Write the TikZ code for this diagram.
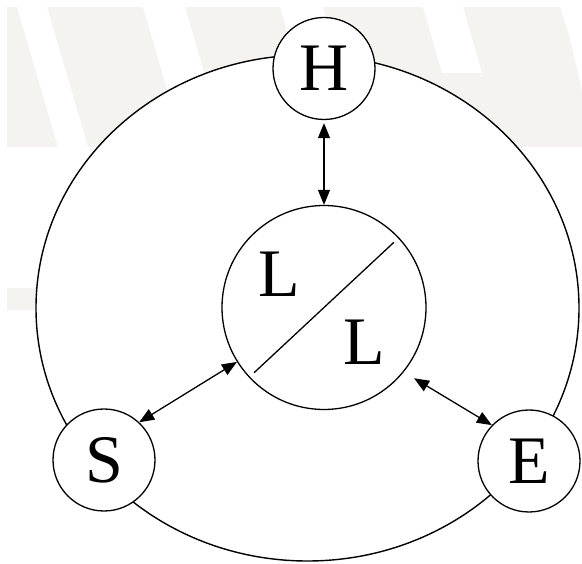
\documentclass[tikz,border=0pt]{standalone}
\usepackage{fontspec}
\setmainfont{Liberation Serif}
\usetikzlibrary{arrows.meta}
\definecolor{wmgrey}{RGB}{245,243,240}
\tikzset{
  ring/.style={draw, line width=1.4pt},
  station/.style={circle, draw, fill=white, line width=1.3pt, minimum size=102pt,
    inner sep=0pt, font=\fontsize{68}{68}\selectfont},
  hub/.style={circle, draw, fill=white, line width=1.3pt, minimum size=204pt, inner sep=0pt},
  letter/.style={inner sep=0pt, font=\fontsize{68}{68}\selectfont},
  divider/.style={line width=1.3pt, shorten <=7pt, shorten >=7pt},
  link/.style={{Triangle[length=15pt,width=12pt]}-{Triangle[length=15pt,width=12pt]}, line width=1.3pt},
}
\begin{document}
\begin{tikzpicture}[x=1pt,y=-1pt]
\useasboundingbox (0,0) rectangle (582,564);
% light background band with white slanted strokes
\fill[wmgrey] (7,7) rectangle (582,147);
\fill[white] (17,7) -- (47,7) -- (88,147) -- (58,147) -- cycle;
\fill[white] (143,7) -- (185,7) -- (226,147) -- (184,147) -- cycle;
\fill[white] (280,7) -- (323,7) -- (364,147) -- (321,147) -- cycle;
\fill[white] (423,7) -- (463,7) -- (482,73) -- (442,73) -- cycle;
\fill[white] (560,7) -- (582,7) -- (582,90) -- (569,35) -- cycle;
\fill[wmgrey] (7,288) rectangle (300,310);
% outer ring
\draw[ring, fill=white] (307.5,308) ellipse [x radius=271.5, y radius=253];
% central split circle
\node[hub] (L) at (324,307.5) {};
\draw[divider] (L.43.5) -- (L.223.5);
\node[letter] (Lup) at (279,274.5) {L};
\node[letter] (Llow) at (364,342.5) {L};
% outer stations
\node[station] (H) at (324,68.5) {H};
\node[station] (S) at (104,460) {S};
\node[station] (E) at (529,461) {E};
% links to the centre
\draw[link, shorten <=3pt] (H.south) -- (L.north);
\draw[link] (S.47) -- (L.212);
\draw[link, shorten >=12pt] (E.136) -- (L.-39);
\end{tikzpicture}
\end{document}
